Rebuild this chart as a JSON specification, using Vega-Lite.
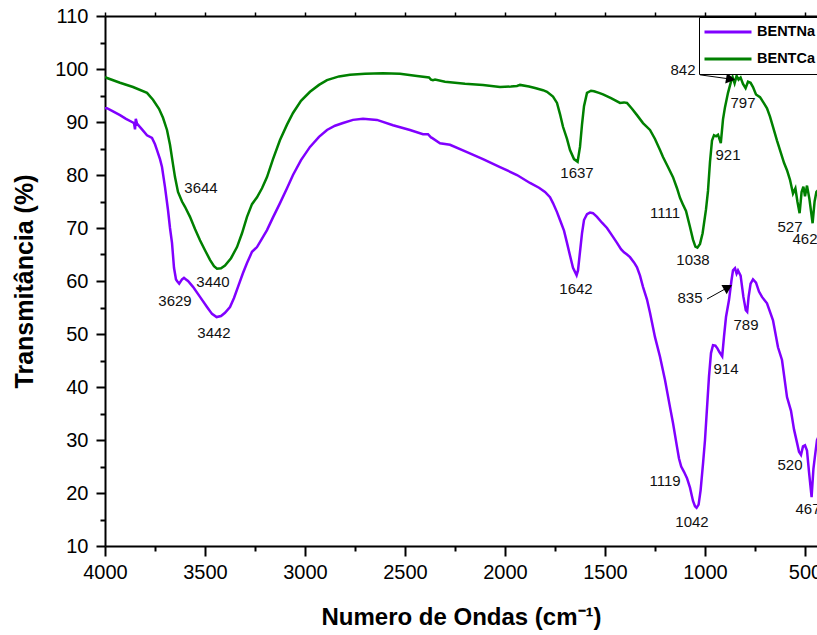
{
  "$schema": "https://vega.github.io/schema/vega-lite/v6.json",
  "autosize": "none",
  "width": 712,
  "height": 530,
  "padding": {"left": 105, "top": 16, "right": 0, "bottom": 89},
  "background": "white",
  "config": {
    "view": {"stroke": null},
    "font": "Liberation Sans"
  },
  "datasets": {
    "spectra": [
      {"s": "BENTCa", "wn": 4000, "T": 98.5}, {"s": "BENTCa", "wn": 3990, "T": 98.3}, {"s": "BENTCa", "wn": 3925, "T": 97.4},
      {"s": "BENTCa", "wn": 3860, "T": 96.6}, {"s": "BENTCa", "wn": 3790, "T": 95.5}, {"s": "BENTCa", "wn": 3760, "T": 94.2},
      {"s": "BENTCa", "wn": 3730, "T": 92.5}, {"s": "BENTCa", "wn": 3710, "T": 90.8}, {"s": "BENTCa", "wn": 3690, "T": 88.5},
      {"s": "BENTCa", "wn": 3675, "T": 85.7}, {"s": "BENTCa", "wn": 3660, "T": 82.0}, {"s": "BENTCa", "wn": 3650, "T": 79.6},
      {"s": "BENTCa", "wn": 3635, "T": 76.8}, {"s": "BENTCa", "wn": 3615, "T": 75.0}, {"s": "BENTCa", "wn": 3600, "T": 74.0},
      {"s": "BENTCa", "wn": 3575, "T": 72.1}, {"s": "BENTCa", "wn": 3550, "T": 69.8}, {"s": "BENTCa", "wn": 3525, "T": 67.7},
      {"s": "BENTCa", "wn": 3500, "T": 65.8}, {"s": "BENTCa", "wn": 3475, "T": 64.0}, {"s": "BENTCa", "wn": 3455, "T": 62.8},
      {"s": "BENTCa", "wn": 3440, "T": 62.3}, {"s": "BENTCa", "wn": 3420, "T": 62.4}, {"s": "BENTCa", "wn": 3400, "T": 62.9},
      {"s": "BENTCa", "wn": 3370, "T": 64.3}, {"s": "BENTCa", "wn": 3340, "T": 66.4}, {"s": "BENTCa", "wn": 3315, "T": 69.0},
      {"s": "BENTCa", "wn": 3290, "T": 72.1}, {"s": "BENTCa", "wn": 3265, "T": 74.5}, {"s": "BENTCa", "wn": 3240, "T": 75.8},
      {"s": "BENTCa", "wn": 3215, "T": 77.5}, {"s": "BENTCa", "wn": 3190, "T": 79.6}, {"s": "BENTCa", "wn": 3160, "T": 83.0},
      {"s": "BENTCa", "wn": 3125, "T": 86.6}, {"s": "BENTCa", "wn": 3090, "T": 89.5}, {"s": "BENTCa", "wn": 3060, "T": 91.7},
      {"s": "BENTCa", "wn": 3020, "T": 94.0}, {"s": "BENTCa", "wn": 2975, "T": 95.7}, {"s": "BENTCa", "wn": 2930, "T": 97.0},
      {"s": "BENTCa", "wn": 2890, "T": 97.9}, {"s": "BENTCa", "wn": 2830, "T": 98.6}, {"s": "BENTCa", "wn": 2775, "T": 98.9},
      {"s": "BENTCa", "wn": 2700, "T": 99.1}, {"s": "BENTCa", "wn": 2610, "T": 99.2}, {"s": "BENTCa", "wn": 2525, "T": 99.1},
      {"s": "BENTCa", "wn": 2440, "T": 98.7}, {"s": "BENTCa", "wn": 2380, "T": 98.4}, {"s": "BENTCa", "wn": 2370, "T": 98.0},
      {"s": "BENTCa", "wn": 2360, "T": 97.9}, {"s": "BENTCa", "wn": 2350, "T": 98.0}, {"s": "BENTCa", "wn": 2300, "T": 97.6},
      {"s": "BENTCa", "wn": 2200, "T": 97.2}, {"s": "BENTCa", "wn": 2110, "T": 97.0}, {"s": "BENTCa", "wn": 2025, "T": 96.6},
      {"s": "BENTCa", "wn": 1970, "T": 96.7}, {"s": "BENTCa", "wn": 1940, "T": 96.8}, {"s": "BENTCa", "wn": 1925, "T": 97.0},
      {"s": "BENTCa", "wn": 1880, "T": 96.7}, {"s": "BENTCa", "wn": 1850, "T": 96.4}, {"s": "BENTCa", "wn": 1810, "T": 96.0},
      {"s": "BENTCa", "wn": 1790, "T": 95.7}, {"s": "BENTCa", "wn": 1760, "T": 94.8}, {"s": "BENTCa", "wn": 1740, "T": 93.6},
      {"s": "BENTCa", "wn": 1725, "T": 91.5}, {"s": "BENTCa", "wn": 1710, "T": 89.1}, {"s": "BENTCa", "wn": 1690, "T": 86.8},
      {"s": "BENTCa", "wn": 1675, "T": 84.7}, {"s": "BENTCa", "wn": 1655, "T": 83.0}, {"s": "BENTCa", "wn": 1637, "T": 82.5},
      {"s": "BENTCa", "wn": 1625, "T": 85.3}, {"s": "BENTCa", "wn": 1615, "T": 89.5}, {"s": "BENTCa", "wn": 1605, "T": 93.0},
      {"s": "BENTCa", "wn": 1590, "T": 95.5}, {"s": "BENTCa", "wn": 1570, "T": 95.9}, {"s": "BENTCa", "wn": 1555, "T": 95.8},
      {"s": "BENTCa", "wn": 1530, "T": 95.5}, {"s": "BENTCa", "wn": 1510, "T": 95.2}, {"s": "BENTCa", "wn": 1470, "T": 94.5},
      {"s": "BENTCa", "wn": 1425, "T": 93.6}, {"s": "BENTCa", "wn": 1405, "T": 93.7}, {"s": "BENTCa", "wn": 1390, "T": 93.6},
      {"s": "BENTCa", "wn": 1365, "T": 92.5}, {"s": "BENTCa", "wn": 1340, "T": 91.3}, {"s": "BENTCa", "wn": 1310, "T": 89.8},
      {"s": "BENTCa", "wn": 1275, "T": 88.5}, {"s": "BENTCa", "wn": 1250, "T": 86.8}, {"s": "BENTCa", "wn": 1225, "T": 84.7},
      {"s": "BENTCa", "wn": 1210, "T": 83.4}, {"s": "BENTCa", "wn": 1185, "T": 81.5}, {"s": "BENTCa", "wn": 1160, "T": 79.6},
      {"s": "BENTCa", "wn": 1140, "T": 77.5}, {"s": "BENTCa", "wn": 1125, "T": 75.7}, {"s": "BENTCa", "wn": 1111, "T": 74.5},
      {"s": "BENTCa", "wn": 1095, "T": 73.2}, {"s": "BENTCa", "wn": 1075, "T": 70.2}, {"s": "BENTCa", "wn": 1060, "T": 67.8},
      {"s": "BENTCa", "wn": 1048, "T": 66.5}, {"s": "BENTCa", "wn": 1038, "T": 66.3}, {"s": "BENTCa", "wn": 1025, "T": 67.0},
      {"s": "BENTCa", "wn": 1012, "T": 69.0}, {"s": "BENTCa", "wn": 995, "T": 73.5}, {"s": "BENTCa", "wn": 985, "T": 77.0},
      {"s": "BENTCa", "wn": 975, "T": 82.5}, {"s": "BENTCa", "wn": 965, "T": 86.5}, {"s": "BENTCa", "wn": 955, "T": 87.5},
      {"s": "BENTCa", "wn": 945, "T": 87.3}, {"s": "BENTCa", "wn": 935, "T": 87.6}, {"s": "BENTCa", "wn": 921, "T": 86.0},
      {"s": "BENTCa", "wn": 910, "T": 90.5}, {"s": "BENTCa", "wn": 900, "T": 92.8}, {"s": "BENTCa", "wn": 885, "T": 95.5},
      {"s": "BENTCa", "wn": 870, "T": 97.6}, {"s": "BENTCa", "wn": 862, "T": 98.5}, {"s": "BENTCa", "wn": 852, "T": 97.3},
      {"s": "BENTCa", "wn": 842, "T": 98.7}, {"s": "BENTCa", "wn": 832, "T": 98.0}, {"s": "BENTCa", "wn": 822, "T": 98.4},
      {"s": "BENTCa", "wn": 810, "T": 97.2}, {"s": "BENTCa", "wn": 797, "T": 96.4}, {"s": "BENTCa", "wn": 785, "T": 97.6},
      {"s": "BENTCa", "wn": 772, "T": 97.4}, {"s": "BENTCa", "wn": 760, "T": 96.6}, {"s": "BENTCa", "wn": 745, "T": 95.2},
      {"s": "BENTCa", "wn": 725, "T": 94.7}, {"s": "BENTCa", "wn": 705, "T": 93.5}, {"s": "BENTCa", "wn": 690, "T": 92.6},
      {"s": "BENTCa", "wn": 675, "T": 91.0}, {"s": "BENTCa", "wn": 660, "T": 89.1}, {"s": "BENTCa", "wn": 640, "T": 86.5},
      {"s": "BENTCa", "wn": 625, "T": 84.7}, {"s": "BENTCa", "wn": 605, "T": 82.3}, {"s": "BENTCa", "wn": 590, "T": 80.9},
      {"s": "BENTCa", "wn": 575, "T": 79.1}, {"s": "BENTCa", "wn": 560, "T": 76.5}, {"s": "BENTCa", "wn": 548, "T": 77.5},
      {"s": "BENTCa", "wn": 538, "T": 75.0}, {"s": "BENTCa", "wn": 527, "T": 72.8}, {"s": "BENTCa", "wn": 517, "T": 76.8},
      {"s": "BENTCa", "wn": 508, "T": 77.8}, {"s": "BENTCa", "wn": 500, "T": 76.0}, {"s": "BENTCa", "wn": 490, "T": 78.0},
      {"s": "BENTCa", "wn": 478, "T": 75.5}, {"s": "BENTCa", "wn": 462, "T": 70.9}, {"s": "BENTCa", "wn": 452, "T": 75.0},
      {"s": "BENTCa", "wn": 443, "T": 76.8}, {"s": "BENTCa", "wn": 430, "T": 77.3}, {"s": "BENTCa", "wn": 415, "T": 75.0},
      {"s": "BENTCa", "wn": 400, "T": 74.3},

      {"s": "BENTNa", "wn": 4000, "T": 92.6}, {"s": "BENTNa", "wn": 3990, "T": 92.6}, {"s": "BENTNa", "wn": 3960, "T": 92.0},
      {"s": "BENTNa", "wn": 3925, "T": 91.3}, {"s": "BENTNa", "wn": 3895, "T": 90.6}, {"s": "BENTNa", "wn": 3865, "T": 90.0},
      {"s": "BENTNa", "wn": 3855, "T": 89.8}, {"s": "BENTNa", "wn": 3850, "T": 88.6}, {"s": "BENTNa", "wn": 3846, "T": 90.6},
      {"s": "BENTNa", "wn": 3840, "T": 89.7}, {"s": "BENTNa", "wn": 3815, "T": 88.6}, {"s": "BENTNa", "wn": 3790, "T": 87.5},
      {"s": "BENTNa", "wn": 3765, "T": 87.0}, {"s": "BENTNa", "wn": 3750, "T": 85.8}, {"s": "BENTNa", "wn": 3740, "T": 84.7},
      {"s": "BENTNa", "wn": 3725, "T": 83.0}, {"s": "BENTNa", "wn": 3715, "T": 81.5}, {"s": "BENTNa", "wn": 3700, "T": 77.7},
      {"s": "BENTNa", "wn": 3685, "T": 73.4}, {"s": "BENTNa", "wn": 3675, "T": 70.0}, {"s": "BENTNa", "wn": 3665, "T": 67.2},
      {"s": "BENTNa", "wn": 3655, "T": 62.5}, {"s": "BENTNa", "wn": 3645, "T": 60.3}, {"s": "BENTNa", "wn": 3638, "T": 59.9},
      {"s": "BENTNa", "wn": 3629, "T": 59.5}, {"s": "BENTNa", "wn": 3615, "T": 60.3}, {"s": "BENTNa", "wn": 3605, "T": 60.6},
      {"s": "BENTNa", "wn": 3595, "T": 60.3}, {"s": "BENTNa", "wn": 3585, "T": 60.0}, {"s": "BENTNa", "wn": 3560, "T": 58.9},
      {"s": "BENTNa", "wn": 3525, "T": 57.0}, {"s": "BENTNa", "wn": 3490, "T": 55.1}, {"s": "BENTNa", "wn": 3465, "T": 53.8},
      {"s": "BENTNa", "wn": 3442, "T": 53.2}, {"s": "BENTNa", "wn": 3420, "T": 53.4}, {"s": "BENTNa", "wn": 3400, "T": 54.0},
      {"s": "BENTNa", "wn": 3375, "T": 55.1}, {"s": "BENTNa", "wn": 3355, "T": 56.8}, {"s": "BENTNa", "wn": 3335, "T": 58.9},
      {"s": "BENTNa", "wn": 3310, "T": 61.5}, {"s": "BENTNa", "wn": 3290, "T": 63.4}, {"s": "BENTNa", "wn": 3265, "T": 65.5},
      {"s": "BENTNa", "wn": 3240, "T": 66.4}, {"s": "BENTNa", "wn": 3215, "T": 68.0}, {"s": "BENTNa", "wn": 3190, "T": 69.6},
      {"s": "BENTNa", "wn": 3160, "T": 72.0}, {"s": "BENTNa", "wn": 3125, "T": 74.7}, {"s": "BENTNa", "wn": 3090, "T": 77.5},
      {"s": "BENTNa", "wn": 3060, "T": 80.0}, {"s": "BENTNa", "wn": 3020, "T": 82.8}, {"s": "BENTNa", "wn": 2975, "T": 85.3},
      {"s": "BENTNa", "wn": 2930, "T": 87.2}, {"s": "BENTNa", "wn": 2890, "T": 88.5}, {"s": "BENTNa", "wn": 2850, "T": 89.3},
      {"s": "BENTNa", "wn": 2810, "T": 89.8}, {"s": "BENTNa", "wn": 2760, "T": 90.4}, {"s": "BENTNa", "wn": 2710, "T": 90.6},
      {"s": "BENTNa", "wn": 2640, "T": 90.4}, {"s": "BENTNa", "wn": 2560, "T": 89.4}, {"s": "BENTNa", "wn": 2475, "T": 88.5},
      {"s": "BENTNa", "wn": 2410, "T": 87.7}, {"s": "BENTNa", "wn": 2385, "T": 87.7}, {"s": "BENTNa", "wn": 2370, "T": 87.1},
      {"s": "BENTNa", "wn": 2365, "T": 87.0}, {"s": "BENTNa", "wn": 2325, "T": 86.0}, {"s": "BENTNa", "wn": 2275, "T": 85.7},
      {"s": "BENTNa", "wn": 2190, "T": 84.3}, {"s": "BENTNa", "wn": 2110, "T": 83.0}, {"s": "BENTNa", "wn": 2025, "T": 81.5},
      {"s": "BENTNa", "wn": 1940, "T": 80.0}, {"s": "BENTNa", "wn": 1875, "T": 78.5}, {"s": "BENTNa", "wn": 1830, "T": 77.6},
      {"s": "BENTNa", "wn": 1800, "T": 76.8}, {"s": "BENTNa", "wn": 1775, "T": 75.8}, {"s": "BENTNa", "wn": 1760, "T": 74.7},
      {"s": "BENTNa", "wn": 1740, "T": 73.0}, {"s": "BENTNa", "wn": 1725, "T": 71.5}, {"s": "BENTNa", "wn": 1705, "T": 69.5},
      {"s": "BENTNa", "wn": 1690, "T": 67.2}, {"s": "BENTNa", "wn": 1675, "T": 64.8}, {"s": "BENTNa", "wn": 1660, "T": 62.5},
      {"s": "BENTNa", "wn": 1642, "T": 61.1}, {"s": "BENTNa", "wn": 1635, "T": 62.0}, {"s": "BENTNa", "wn": 1625, "T": 65.5},
      {"s": "BENTNa", "wn": 1615, "T": 69.0}, {"s": "BENTNa", "wn": 1605, "T": 71.5}, {"s": "BENTNa", "wn": 1590, "T": 72.6},
      {"s": "BENTNa", "wn": 1575, "T": 72.9}, {"s": "BENTNa", "wn": 1560, "T": 72.8}, {"s": "BENTNa", "wn": 1540, "T": 72.1},
      {"s": "BENTNa", "wn": 1515, "T": 71.0}, {"s": "BENTNa", "wn": 1490, "T": 70.0}, {"s": "BENTNa", "wn": 1465, "T": 68.6},
      {"s": "BENTNa", "wn": 1440, "T": 67.2}, {"s": "BENTNa", "wn": 1420, "T": 66.0}, {"s": "BENTNa", "wn": 1405, "T": 65.4},
      {"s": "BENTNa", "wn": 1390, "T": 65.0}, {"s": "BENTNa", "wn": 1375, "T": 64.5}, {"s": "BENTNa", "wn": 1355, "T": 63.5},
      {"s": "BENTNa", "wn": 1340, "T": 62.6}, {"s": "BENTNa", "wn": 1325, "T": 61.0}, {"s": "BENTNa", "wn": 1310, "T": 58.9},
      {"s": "BENTNa", "wn": 1290, "T": 56.5}, {"s": "BENTNa", "wn": 1275, "T": 54.0}, {"s": "BENTNa", "wn": 1250, "T": 49.4},
      {"s": "BENTNa", "wn": 1225, "T": 45.7}, {"s": "BENTNa", "wn": 1200, "T": 41.3}, {"s": "BENTNa", "wn": 1175, "T": 36.2},
      {"s": "BENTNa", "wn": 1160, "T": 33.2}, {"s": "BENTNa", "wn": 1140, "T": 28.7}, {"s": "BENTNa", "wn": 1130, "T": 26.5},
      {"s": "BENTNa", "wn": 1119, "T": 25.0}, {"s": "BENTNa", "wn": 1105, "T": 24.0}, {"s": "BENTNa", "wn": 1090, "T": 22.8},
      {"s": "BENTNa", "wn": 1075, "T": 21.0}, {"s": "BENTNa", "wn": 1060, "T": 18.5}, {"s": "BENTNa", "wn": 1050, "T": 17.5},
      {"s": "BENTNa", "wn": 1042, "T": 17.2}, {"s": "BENTNa", "wn": 1032, "T": 17.8}, {"s": "BENTNa", "wn": 1022, "T": 20.5},
      {"s": "BENTNa", "wn": 1010, "T": 25.5}, {"s": "BENTNa", "wn": 1000, "T": 30.0}, {"s": "BENTNa", "wn": 990, "T": 36.0},
      {"s": "BENTNa", "wn": 980, "T": 42.0}, {"s": "BENTNa", "wn": 970, "T": 46.4}, {"s": "BENTNa", "wn": 960, "T": 47.9},
      {"s": "BENTNa", "wn": 948, "T": 47.8}, {"s": "BENTNa", "wn": 938, "T": 47.3}, {"s": "BENTNa", "wn": 928, "T": 46.6},
      {"s": "BENTNa", "wn": 914, "T": 45.8}, {"s": "BENTNa", "wn": 905, "T": 49.5}, {"s": "BENTNa", "wn": 895, "T": 53.2},
      {"s": "BENTNa", "wn": 880, "T": 56.4}, {"s": "BENTNa", "wn": 868, "T": 60.0}, {"s": "BENTNa", "wn": 860, "T": 62.0},
      {"s": "BENTNa", "wn": 850, "T": 62.4}, {"s": "BENTNa", "wn": 842, "T": 61.4}, {"s": "BENTNa", "wn": 835, "T": 62.0},
      {"s": "BENTNa", "wn": 822, "T": 61.0}, {"s": "BENTNa", "wn": 808, "T": 57.0}, {"s": "BENTNa", "wn": 796, "T": 54.5},
      {"s": "BENTNa", "wn": 789, "T": 54.2}, {"s": "BENTNa", "wn": 782, "T": 57.0}, {"s": "BENTNa", "wn": 772, "T": 59.5},
      {"s": "BENTNa", "wn": 760, "T": 60.3}, {"s": "BENTNa", "wn": 745, "T": 59.7}, {"s": "BENTNa", "wn": 730, "T": 58.0},
      {"s": "BENTNa", "wn": 715, "T": 57.0}, {"s": "BENTNa", "wn": 690, "T": 55.8}, {"s": "BENTNa", "wn": 660, "T": 52.6},
      {"s": "BENTNa", "wn": 635, "T": 47.5}, {"s": "BENTNa", "wn": 615, "T": 45.1}, {"s": "BENTNa", "wn": 590, "T": 38.1},
      {"s": "BENTNa", "wn": 570, "T": 35.5}, {"s": "BENTNa", "wn": 555, "T": 32.0}, {"s": "BENTNa", "wn": 540, "T": 29.5},
      {"s": "BENTNa", "wn": 530, "T": 27.8}, {"s": "BENTNa", "wn": 520, "T": 27.2}, {"s": "BENTNa", "wn": 510, "T": 28.8},
      {"s": "BENTNa", "wn": 500, "T": 29.0}, {"s": "BENTNa", "wn": 490, "T": 28.0}, {"s": "BENTNa", "wn": 480, "T": 24.0},
      {"s": "BENTNa", "wn": 467, "T": 19.2}, {"s": "BENTNa", "wn": 458, "T": 24.5}, {"s": "BENTNa", "wn": 450, "T": 27.0},
      {"s": "BENTNa", "wn": 440, "T": 30.0}, {"s": "BENTNa", "wn": 430, "T": 30.8}, {"s": "BENTNa", "wn": 420, "T": 29.5},
      {"s": "BENTNa", "wn": 410, "T": 30.0}, {"s": "BENTNa", "wn": 400, "T": 30.5}
    ],
    "peaks": [
      {"wn": 3520, "T": 77.5, "t": "3644"}, {"wn": 3460, "T": 59.8, "t": "3440"},
      {"wn": 3650, "T": 56.2, "t": "3629"}, {"wn": 3455, "T": 50.2, "t": "3442"},
      {"wn": 1640, "T": 80.4, "t": "1637"}, {"wn": 1645, "T": 58.5, "t": "1642"},
      {"wn": 1200, "T": 72.8, "t": "1111"}, {"wn": 1060, "T": 64.0, "t": "1038"},
      {"wn": 1110, "T": 99.8, "t": "842"}, {"wn": 810, "T": 93.6, "t": "797"},
      {"wn": 885, "T": 83.8, "t": "921"}, {"wn": 575, "T": 70.2, "t": "527"},
      {"wn": 500, "T": 67.9, "t": "462"}, {"wn": 1075, "T": 56.8, "t": "835"},
      {"wn": 795, "T": 51.7, "t": "789"}, {"wn": 895, "T": 43.4, "t": "914"},
      {"wn": 1200, "T": 22.3, "t": "1119"}, {"wn": 1065, "T": 14.5, "t": "1042"},
      {"wn": 575, "T": 25.3, "t": "520"}, {"wn": 485, "T": 17.0, "t": "467"}
    ],
    "arrows": [
      {"wn": 1025, "T": 98.9, "wn2": 872, "T2": 98.1},
      {"wn": 990, "T": 56.6, "wn2": 885, "T2": 58.8}
    ]
  },
  "layer": [
    {
      "data": {"name": "spectra"},
      "mark": {"type": "line", "strokeWidth": 2.5, "clip": true, "interpolate": "linear"},
      "encoding": {
        "x": {
          "field": "wn", "type": "quantitative",
          "scale": {"domain": [440, 4000], "reverse": true, "nice": false, "zero": false},
          "axis": {
            "orient": "bottom",
            "values": [4000, 3750, 3500, 3250, 3000, 2750, 2500, 2250, 2000, 1750, 1500, 1250, 1000, 750, 500],
            "format": "d",
            "labelExpr": "datum.value % 500 === 0 ? datum.label : ''",
            "labelFlush": false, "labelOverlap": false,
            "labelFont": "Liberation Sans", "labelFontSize": 20, "labelColor": "black", "labelPadding": 6,
            "domainColor": "black", "domainWidth": 2,
            "tickColor": "black", "tickWidth": 2,
            "tickSize": {"condition": {"test": "datum.value % 500 === 0", "value": 10}, "value": 5},
            "grid": false,
            "title": "Numero de Ondas (cm⁻¹)",
            "titleFont": "Liberation Sans", "titleFontSize": 24, "titleFontWeight": "bold", "titleColor": "black",
            "titleX": 356, "titleY": 71, "titleAlign": "center", "titleBaseline": "middle"
          }
        },
        "y": {
          "field": "T", "type": "quantitative",
          "scale": {"domain": [10, 110], "nice": false, "zero": false},
          "axis": {
            "orient": "left",
            "values": [10, 15, 20, 25, 30, 35, 40, 45, 50, 55, 60, 65, 70, 75, 80, 85, 90, 95, 100, 105, 110],
            "labelExpr": "datum.value % 10 === 0 ? datum.label : ''",
            "labelFlush": false, "labelOverlap": false,
            "labelFont": "Liberation Sans", "labelFontSize": 20, "labelColor": "black", "labelPadding": 8,
            "domainColor": "black", "domainWidth": 2,
            "tickColor": "black", "tickWidth": 2,
            "tickSize": {"condition": {"test": "datum.value % 10 === 0", "value": 9}, "value": 5},
            "grid": false,
            "title": "Transmitância (%)",
            "titleFont": "Liberation Sans", "titleFontSize": 25, "titleFontWeight": "bold", "titleColor": "black",
            "titleX": -81, "titleY": 265, "titleAngle": -90, "titleAlign": "center", "titleBaseline": "middle"
          }
        },
        "color": {
          "field": "s", "type": "nominal",
          "scale": {"domain": ["BENTNa", "BENTCa"], "range": ["#8000FF", "#008000"]},
          "legend": {
            "orient": "none", "legendX": 594, "legendY": 1,
            "title": null,
            "symbolType": "stroke", "symbolSize": 2209, "symbolStrokeWidth": 3,
            "clipHeight": 22, "rowPadding": 5, "padding": 4, "labelOffset": 4,
            "labelFont": "Liberation Sans", "labelFontSize": 14.5, "labelFontWeight": "bold", "labelColor": "black",
            "strokeColor": "black", "fillColor": "white"
          }
        }
      }
    },
    {
      "data": {"name": "peaks"},
      "mark": {"type": "text", "font": "Liberation Sans", "fontSize": 15, "color": "#111111", "align": "center", "baseline": "middle"},
      "encoding": {
        "x": {"field": "wn", "type": "quantitative", "scale": {"domain": [440, 4000], "reverse": true, "nice": false, "zero": false}, "axis": null},
        "y": {"field": "T", "type": "quantitative", "scale": {"domain": [10, 110], "nice": false, "zero": false}, "axis": null},
        "text": {"field": "t", "type": "nominal"}
      }
    },
    {
      "data": {"name": "arrows"},
      "mark": {"type": "rule", "color": "black", "strokeWidth": 1},
      "encoding": {
        "x": {
          "field": "wn", "type": "quantitative",
          "scale": {"domain": [440, 4000], "reverse": true, "nice": false, "zero": false},
          "axis": {
            "orient": "top",
            "values": [4000, 3750, 3500, 3250, 3000, 2750, 2500, 2250, 2000, 1750, 1500, 1250, 1000, 750, 500],
            "labels": false, "grid": false, "title": null,
            "domainColor": "black", "domainWidth": 2,
            "tickColor": "black", "tickWidth": 1.5, "tickSize": 4
          }
        },
        "x2": {"field": "wn2"},
        "y": {"field": "T", "type": "quantitative", "scale": {"domain": [10, 110], "nice": false, "zero": false}, "axis": null},
        "y2": {"field": "T2"}
      }
    },
    {
      "data": {"values": [{"wn": 872, "T": 98.1}]},
      "mark": {"type": "point", "shape": "triangle-right", "filled": true, "color": "black", "size": 110, "angle": 10, "opacity": 1},
      "encoding": {
        "x": {"field": "wn", "type": "quantitative", "scale": {"domain": [440, 4000], "reverse": true, "nice": false, "zero": false}, "axis": null},
        "y": {"field": "T", "type": "quantitative", "scale": {"domain": [10, 110], "nice": false, "zero": false}, "axis": null}
      }
    },
    {
      "data": {"values": [{"wn": 885, "T": 58.8}]},
      "mark": {"type": "point", "shape": "triangle-right", "filled": true, "color": "black", "size": 110, "angle": 330, "opacity": 1},
      "encoding": {
        "x": {"field": "wn", "type": "quantitative", "scale": {"domain": [440, 4000], "reverse": true, "nice": false, "zero": false}, "axis": null},
        "y": {"field": "T", "type": "quantitative", "scale": {"domain": [10, 110], "nice": false, "zero": false}, "axis": null}
      }
    }
  ],
  "resolve": {"axis": {"x": "independent", "y": "independent"}}
}
